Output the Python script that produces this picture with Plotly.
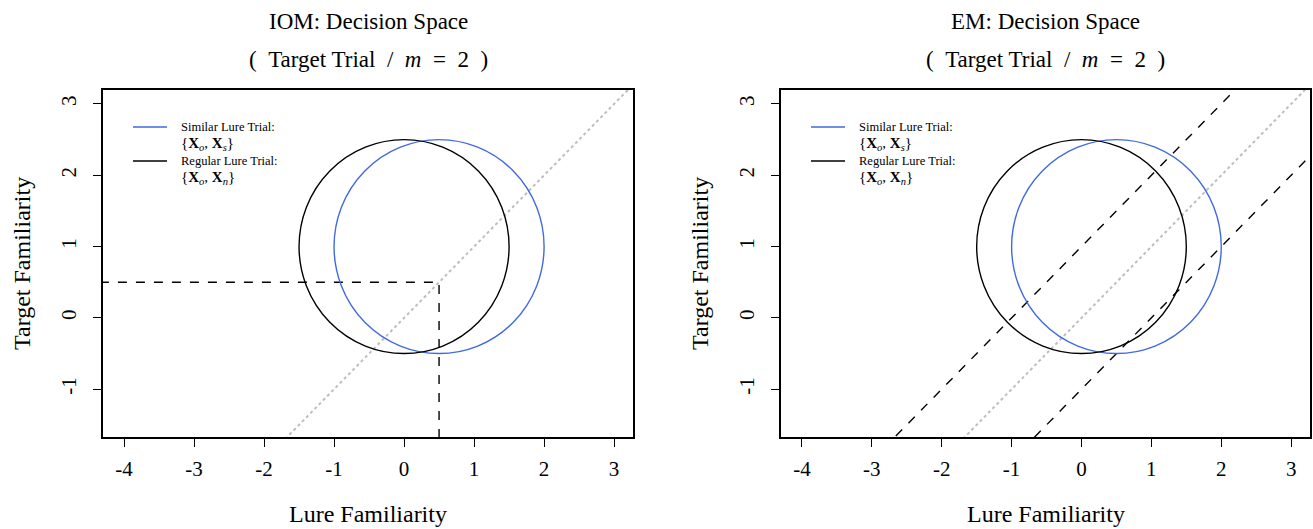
import plotly.graph_objects as go

# ---- data ----
x_ticks = [-4, -3, -2, -1, 0, 1, 2, 3]
y_ticks = [-1, 0, 1, 2, 3]
x_range = [-4.3, 3.27]
y_range = [-1.67, 3.196]
similar_center = (0.5, 1.0)
regular_center = (0.0, 1.0)
radius = 1.5
criterion = 0.5          # IOM criterion (both axes)
em_offsets = [1.0, -1.0]  # EM decision bounds y = x + c
diag_x = [-5, 5]

W, H = 1313, 529
FONT = "Liberation Serif, Times New Roman, serif"
BLUE = "#4169E1"
SP = "&nbsp;"

fig = go.Figure()

panels = [("x", "y", "IOM: Decision Space", 103, 633),
          ("x2", "y2", "EM: Decision Space", 781, 1310)]

subtitle = "(" + SP * 2 + "Target Trial" + SP * 2 + "/" + SP * 2 + "<i>m</i>" + SP * 2 + "=" + SP * 2 + "2" + SP * 2 + ")"

for i, (xa, ya, title, px0, px1) in enumerate(panels):
    # diagonal y = x
    fig.add_trace(go.Scatter(x=diag_x, y=diag_x, mode="lines", xaxis=xa, yaxis=ya,
                             line=dict(color="#bebebe", width=2, dash="dot"),
                             showlegend=False, hoverinfo="skip"))
    # circles
    for (cx, cy), col in [(similar_center, BLUE), (regular_center, "black")]:
        fig.add_shape(type="circle", xref=xa, yref=ya,
                      x0=cx - radius, x1=cx + radius, y0=cy - radius, y1=cy + radius,
                      line=dict(color=col, width=1.4))
    if i == 0:
        fig.add_trace(go.Scatter(x=[-10, criterion, criterion], y=[criterion, criterion, -10],
                                 mode="lines", xaxis=xa, yaxis=ya,
                                 line=dict(color="black", width=1.4, dash="dash"),
                                 showlegend=False, hoverinfo="skip"))
    else:
        for c in em_offsets:
            fig.add_trace(go.Scatter(x=diag_x, y=[v + c for v in diag_x], mode="lines",
                                     xaxis=xa, yaxis=ya,
                                     line=dict(color="black", width=1.4, dash="dash"),
                                     showlegend=False, hoverinfo="skip"))
    # titles
    cxp = (px0 + px1) / 2 / W
    fig.add_annotation(x=cxp, y=1 - 22 / H, xref="paper", yref="paper", text=title,
                       showarrow=False, xanchor="center", yanchor="middle",
                       font=dict(family=FONT, size=23, color="black"))
    fig.add_annotation(x=cxp, y=1 - 60 / H, xref="paper", yref="paper",
                       text=subtitle,
                       showarrow=False, xanchor="center", yanchor="middle",
                       font=dict(family=FONT, size=23, color="black"))
    # legend
    lx0 = (px0 + 30) / W
    lx1 = (px0 + 64) / W
    for j, (col, lab, sub) in enumerate([(BLUE, "Similar Lure Trial:", "s"),
                                          ("black", "Regular Lure Trial:", "n")]):
        ly = 1 - (127 + 34 * j) / H
        fig.add_shape(type="line", xref="paper", yref="paper", x0=lx0, x1=lx1, y0=ly, y1=ly,
                      line=dict(color=col, width=1.5))
        fig.add_annotation(x=(px0 + 76) / W, y=ly, xref="paper", yref="paper", text=lab,
                           showarrow=False, xanchor="left", yanchor="middle",
                           font=dict(family=FONT, size=12.5, color="black"))
        fig.add_annotation(x=(px0 + 76) / W, y=ly - 17 / H, xref="paper", yref="paper",
                           text="{<b>X</b><sub><i>o</i></sub>," + SP + "<b>X</b><sub><i>%s</i></sub>}" % sub,
                           showarrow=False, xanchor="left", yanchor="middle",
                           font=dict(family=FONT, size=15, color="black"))
    # axis titles
    fig.add_annotation(x=cxp, y=1 - 514 / H, xref="paper", yref="paper", text="Lure Familiarity",
                       showarrow=False, xanchor="center", yanchor="middle",
                       font=dict(family=FONT, size=24, color="black"))
    fig.add_annotation(x=(px0 - 81) / W, y=1 - 264 / H, xref="paper", yref="paper",
                       text="Target Familiarity", textangle=-90,
                       showarrow=False, xanchor="center", yanchor="middle",
                       font=dict(family=FONT, size=24, color="black"))

common_x = dict(range=x_range, tickvals=x_ticks, ticktext=[str(v) for v in x_ticks],
                ticks="outside", ticklen=8, tickwidth=1.2, tickcolor="black",
                showline=True, linecolor="black", linewidth=1.5, mirror=True,
                showgrid=False, zeroline=False, ticklabelstandoff=4,
                tickfont=dict(family=FONT, size=21, color="black"))
common_y = dict(range=y_range, tickvals=y_ticks, ticktext=[str(v) for v in y_ticks],
                ticks="outside", ticklen=8, tickwidth=1.2, tickcolor="black",
                showline=True, linecolor="black", linewidth=1.5, mirror=True,
                showgrid=False, zeroline=False, tickangle=-90, ticklabelstandoff=9,
                tickfont=dict(family=FONT, size=21, color="black"))

ydom = [1 - 437 / H, 1 - 90 / H]
fig.update_layout(
    width=W, height=H, margin=dict(l=0, r=0, t=0, b=0),
    paper_bgcolor="white", plot_bgcolor="white", showlegend=False,
    font=dict(family=FONT),
    xaxis=dict(domain=[103 / W, 633 / W], anchor="y", **common_x),
    yaxis=dict(domain=ydom, anchor="x", **common_y),
    xaxis2=dict(domain=[781 / W, 1310 / W], anchor="y2", **common_x),
    yaxis2=dict(domain=ydom, anchor="x2", **common_y),
)

fig.write_html("out.html")
